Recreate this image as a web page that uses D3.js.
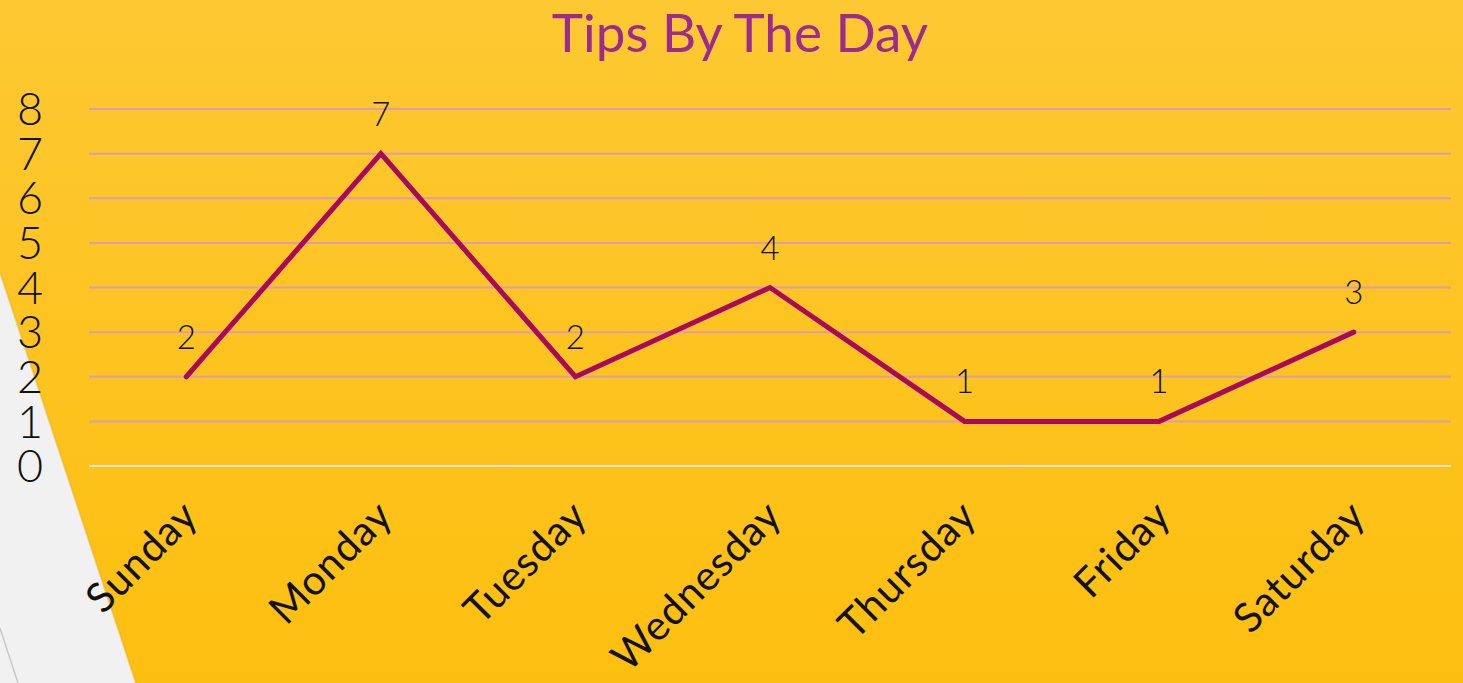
<!DOCTYPE html>
<html>
<head>
<meta charset="utf-8">
<script src="https://cdn.jsdelivr.net/npm/d3@7"></script>
<style>
  html, body { margin: 0; padding: 0; overflow: hidden; }
  body { width: 1463px; height: 683px; }
</style>
</head>
<body>
<div id="chart-area"></div>
<script>
// data
var days = ["Sunday", "Monday", "Tuesday", "Wednesday", "Thursday", "Friday", "Saturday"];
var tips = [2, 7, 2, 4, 1, 1, 3];
var yTicks = [0, 1, 2, 3, 4, 5, 6, 7, 8];

var W = 1463, H = 683;
var margin = { left: 89, right: 12, top: 109, bottom: 217 };
var width = W - margin.left - margin.right;
var height = H - margin.top - margin.bottom;

var svg = d3.select("#chart-area")
    .append("svg")
    .attr("width", W)
    .attr("height", H);

// background
var defs = svg.append("defs");
var grad = defs.append("linearGradient")
    .attr("id", "bg")
    .attr("x1", 0).attr("y1", 0).attr("x2", 0).attr("y2", 1);
grad.append("stop").attr("offset", "0%").attr("stop-color", "#fdc832");
grad.append("stop").attr("offset", "100%").attr("stop-color", "#fdbf0f");

svg.append("rect")
    .attr("width", W).attr("height", H)
    .attr("fill", "url(#bg)");

// white corner shape bottom-left
svg.append("path")
    .attr("d", "M0,272 L136,683 L0,683 Z")
    .attr("fill", "#f1f1f1");
svg.append("path")
    .attr("d", "M0,272 L136,683")
    .attr("stroke", "#e6b21c")
    .attr("stroke-width", 2)
    .attr("opacity", 0.5);
svg.append("path")
    .attr("d", "M0,628 L18,683")
    .attr("stroke", "#c9c9c9")
    .attr("stroke-width", 1.5);

var g = svg.append("g")
    .attr("transform", "translate(" + margin.left + "," + margin.top + ")");

// scales
var x = d3.scalePoint()
    .domain(days)
    .range([0, width])
    .padding(0.5);

var y = d3.scaleLinear()
    .domain([0, 8])
    .range([height, 0]);

// gridlines
g.selectAll("line.grid")
    .data(yTicks)
    .enter()
    .append("line")
    .attr("class", "grid")
    .attr("x1", 0)
    .attr("x2", width)
    .attr("y1", function (d) { return y(d); })
    .attr("y2", function (d) { return y(d); })
    .attr("stroke", function (d) { return d === 0 ? "#e4e0dc" : "#dc9cb4"; })
    .attr("stroke-width", 2);

// y axis labels
g.selectAll("text.ylab")
    .data(yTicks)
    .enter()
    .append("text")
    .attr("class", "ylab")
    .attr("x", -59)
    .attr("y", function (d) { return y(d); })
    .attr("dy", "0.36em")
    .attr("text-anchor", "middle")
    .attr("font-family", "Lato, 'Noto Sans', sans-serif")
    .attr("font-weight", 300)
    .attr("font-size", "45px")
    .attr("fill", "#111")
    .text(function (d) { return d; });

// x axis labels
g.selectAll("text.xlab")
    .data(days)
    .enter()
    .append("text")
    .attr("class", "xlab")
    .attr("text-anchor", "end")
    .attr("font-family", "Lato, 'Noto Sans', sans-serif")
    .attr("font-size", "41px")
    .attr("letter-spacing", "1px")
    .attr("fill", "#111")
    .attr("transform", function (d) {
        return "translate(" + (x(d) + 14) + "," + (height + 52) + ") rotate(-45)";
    })
    .text(function (d) { return d; });

// line
var line = d3.line()
    .x(function (d, i) { return x(days[i]); })
    .y(function (d) { return y(d); });

g.append("path")
    .datum(tips)
    .attr("d", line)
    .attr("fill", "none")
    .attr("stroke", "#a8085e")
    .attr("stroke-width", 5)
    .attr("stroke-linejoin", "miter")
    .attr("stroke-linecap", "round");

// data labels
g.selectAll("text.vlab")
    .data(tips)
    .enter()
    .append("text")
    .attr("class", "vlab")
    .attr("x", function (d, i) { return x(days[i]); })
    .attr("y", function (d) { return y(d) - 28; })
    .attr("text-anchor", "middle")
    .attr("font-family", "Lato, 'Noto Sans', sans-serif")
    .attr("font-weight", 300)
    .attr("font-size", "33px")
    .attr("fill", "#111")
    .text(function (d) { return d; });

// title
svg.append("text")
    .attr("x", 740)
    .attr("y", 52)
    .attr("text-anchor", "middle")
    .attr("font-family", "Lato, 'Noto Sans', sans-serif")
    .attr("font-size", "53px")
    .attr("fill", "#9a2b90")
    .text("Tips By The Day");
</script>
</body>
</html>
